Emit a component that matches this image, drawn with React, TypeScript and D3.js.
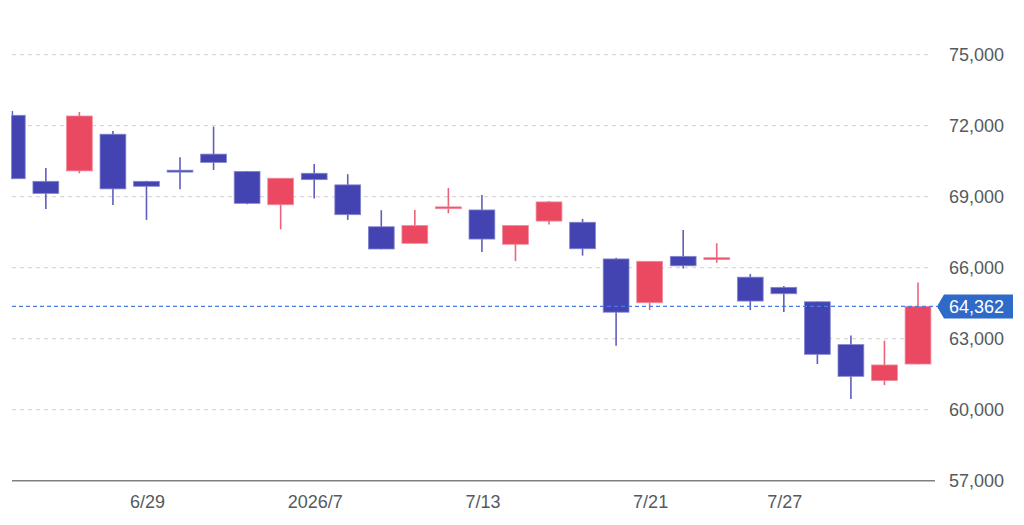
import React, { useEffect, useRef } from 'react';
import * as d3 from 'd3';

// daily candles, 6/23 .. 7/31
const dates = [
  '6/23', '6/24', '6/25', '6/26', '6/29', '6/30', '7/1', '7/2', '7/3', '7/6',
  '7/7', '7/8', '7/9', '7/10', '7/13', '7/14', '7/15', '7/16', '7/17', '7/21',
  '7/22', '7/23', '7/24', '7/27', '7/28', '7/29', '7/30', '7/31',
];
const opens = [
  72440, 69650, 70090, 71640, 69650, 70120, 70800, 70070, 68660, 69990,
  69500, 67730, 67030, 68540, 68440, 66990, 67970, 67920, 66370, 64520,
  66480, 66400, 65600, 65170, 64560, 62750, 61230, 61930,
];
const highs = [
  72620, 70210, 72580, 71780, 69670, 70670, 71960, 70090, 69790, 70380,
  69950, 68430, 68440, 69370, 69070, 67800, 68820, 68060, 66420, 66280,
  67590, 67030, 65730, 65230, 64570, 63130, 62920, 65370,
];
const lows = [
  69740, 68480, 69990, 68650, 68020, 69310, 70130, 68680, 67620, 68920,
  68020, 66780, 67020, 68300, 66660, 66280, 67830, 66510, 62700, 64210,
  65970, 66210, 64210, 64130, 61930, 60450, 61040, 61920,
];
const closes = [
  69760, 69140, 72410, 69330, 69440, 70040, 70450, 68720, 69780, 69720,
  68240, 66790, 67780, 68570, 67210, 67780, 68780, 66800, 64120, 66270,
  66080, 66420, 64590, 64900, 62340, 61410, 61890, 64362,
];

const yTicks = [57000, 60000, 63000, 66000, 69000, 72000, 75000];
const xTickDates = ['6/29', '7/6', '7/13', '7/21', '7/27'];
const xTickLabels = ['6/29', '2026/7', '7/13', '7/21', '7/27'];
const lastPrice = 64362;

const UP = '#eb4862';
const DOWN = '#4343b2';

export default function App() {
  const svgRef = useRef<SVGSVGElement>(null);

  useEffect(() => {
    if (!svgRef.current) return;
    const svg = d3.select(svgRef.current);
    svg.selectAll('*').remove();

    const plotLeft = 11.5;
    const plotRight = 935;

    const x = d3.scaleLinear().domain([0, dates.length - 1]).range([12.3, 918]);
    const y = d3.scaleLinear().domain([57000, 75000]).range([480.7, 54.7]);
    const bodyW = 25.8;

    const fmt = d3.format(',');

    svg.append('defs').append('clipPath').attr('id', 'plot-clip')
      .append('rect')
      .attr('x', plotLeft).attr('y', 0)
      .attr('width', plotRight - plotLeft).attr('height', 525);

    // grid
    svg.append('g')
      .selectAll('line')
      .data(yTicks.filter(t => t > 57000))
      .enter()
      .append('line')
      .attr('x1', 12)
      .attr('x2', 932)
      .attr('y1', d => y(d))
      .attr('y2', d => y(d))
      .style('stroke', '#d9d9d9')
      .style('stroke-width', 1.2)
      .style('stroke-dasharray', '4,4');

    // bottom axis line
    svg.append('line')
      .attr('x1', 12).attr('x2', plotRight)
      .attr('y1', y(57000)).attr('y2', y(57000))
      .style('stroke', '#7d8186')
      .style('stroke-width', 1.6);

    // y labels
    svg.append('g')
      .selectAll('text')
      .data(yTicks)
      .enter()
      .append('text')
      .attr('x', 949)
      .attr('y', d => y(d))
      .attr('dy', '0.36em')
      .style('font-family', '"Liberation Sans", Arial, sans-serif')
      .style('font-size', '18px')
      .style('fill', '#555a60')
      .text(d => fmt(d));

    // x labels
    svg.append('g')
      .selectAll('text')
      .data(xTickDates)
      .enter()
      .append('text')
      .attr('x', d => x(dates.indexOf(d)) + 1)
      .attr('y', 508)
      .attr('text-anchor', 'middle')
      .style('font-family', '"Liberation Sans", Arial, sans-serif')
      .style('font-size', '18px')
      .style('fill', '#555a60')
      .text((d, i) => xTickLabels[i]);

    // candles
    const candles = svg.append('g').attr('clip-path', 'url(#plot-clip)')
      .selectAll('g')
      .data(dates.map((d, i) => ({ d, i, o: opens[i], h: highs[i], l: lows[i], c: closes[i] })))
      .enter()
      .append('g');

    candles.append('line')
      .attr('x1', d => x(d.i))
      .attr('x2', d => x(d.i))
      .attr('y1', d => y(d.h))
      .attr('y2', d => y(d.l))
      .style('stroke', d => (d.c >= d.o ? UP : DOWN))
      .style('stroke-width', 1.6)
      .style('opacity', 0.85);

    candles.append('rect')
      .attr('x', d => x(d.i) - bodyW / 2)
      .attr('y', d => y(Math.max(d.o, d.c)))
      .attr('width', bodyW)
      .attr('height', d => Math.max(1.8, Math.abs(y(d.o) - y(d.c))))
      .style('fill', d => (d.c >= d.o ? UP : DOWN))
      .style('stroke', d => (d.c >= d.o ? '#f08a9a' : '#8585d0'))
      .style('stroke-width', 0.8);

    // last price line + badge
    const py = y(lastPrice);
    svg.append('line')
      .attr('x1', 12).attr('x2', 937)
      .attr('y1', py).attr('y2', py)
      .style('stroke', '#4a7be0')
      .style('stroke-width', 1.2)
      .style('stroke-dasharray', '4,3');

    svg.append('path')
      .attr('d', `M937,${py} L944,${py - 12} L1013,${py - 12} L1013,${py + 12} L944,${py + 12} Z`)
      .style('fill', '#2f6ac8');

    svg.append('text')
      .attr('x', 949)
      .attr('y', py)
      .attr('dy', '0.36em')
      .style('font-family', '"Liberation Sans", Arial, sans-serif')
      .style('font-size', '18px')
      .style('fill', '#ffffff')
      .text(fmt(lastPrice));
  }, []);

  return (
    <svg
      ref={svgRef}
      width={1024}
      height={525}
      style={{ position: 'absolute', left: 0, top: 0, background: '#fff' }}
    />
  );
}
